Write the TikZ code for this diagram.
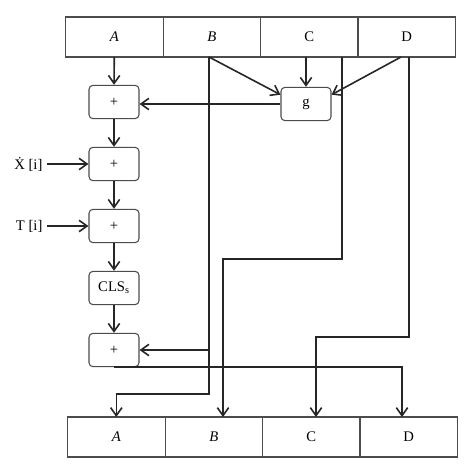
\documentclass[tikz,border=0pt]{standalone}
\usepackage{fontspec}
\setmainfont{Liberation Serif}
\usetikzlibrary{arrows.meta, positioning}

\begin{document}
\begin{tikzpicture} [
            x=0.75pt, y=-0.75pt,
            font=\fontsize{11}{13}\selectfont,
            cell/.style  = { rectangle, draw=black!70, line width=0.8pt,
                             minimum width=73.1pt, minimum height=30pt,
                             inner sep=0pt, outer sep=0pt },
            block/.style = { rectangle, draw=black!70, line width=0.8pt,
                             minimum width=37.5pt, minimum height=25pt,
                             rounded corners=3pt, inner sep=1pt },
            line/.style  = { draw, black!85, line width=1.2pt,
                             -{Straight Barb[length=6pt,width=8.5pt]} },
          ]
          \useasboundingbox (0,0) rectangle (474,474);

          % registers
          \matrix [column sep=-0.8pt] at (260.5,37) {
            \node (inA) [cell] {\textit{A}}; & \node (inB) [cell] {\textit{B}}; &
            \node (inC) [cell] {C}; & \node (inD) [cell] {D}; \\
          };
          \matrix [column sep=-0.8pt] at (262.5,437) {
            \node (outA) [cell] {\textit{A}}; & \node (outB) [cell] {\textit{B}}; &
            \node (outC) [cell] {C}; & \node (outD) [cell] {D}; \\
          };

          % adder chain
          \matrix [row sep=20.7pt] at (114,226) {
            \node (sum1) [block] {+}; \\
            \node (sum2) [block] {+}; \\
            \node (sum3) [block] {+}; \\
            \node (cls) [block] {CLS\textsubscript{s}}; \\
            \node (sum4) [block] {+}; \\
          };
          \node (g) [block] at (306,104) {g};
          \node (xin) [left=31pt of sum2] {\.X [i]};
          \node (tin) [left=31pt of sum3] {T [i]};

          \coordinate (bOut) at (209,57);
          \coordinate (cOut) at (342,57);
          \coordinate (dOut) at (409,57);
          \coordinate (dSide) at (401,57);
          \coordinate (bTurn) at (209,394);
          \coordinate (cTurn) at (223,259);
          \coordinate (dTurn) at (316,337);
          \coordinate (sTurn) at (402,369);

            \draw [line] (inA.south) -- (sum1.north);
            \draw [line] (sum1) -- (sum2);
            \draw [line] (sum2) -- (sum3);
            \draw [line] (sum3) -- (cls);
            \draw [line] (cls) -- (sum4);
            \draw [line] (xin) -- (sum2);
            \draw [line] (tin) -- (sum3);
            \draw [line] (g.north |- inC.south) -- (g.north);
            \draw [line] (bOut) -- (g.160);
            \draw [line] (dSide) -- (g.20);
            \draw [line] (g.west) -- (g.west -| sum1.east);
            \draw [line] (bOut) -- (bTurn) -| (outA.north);
            \draw [line] (bOut |- sum4.east) -- (sum4.east);
            \draw [line] (cOut) |- (cTurn) -- (cTurn |- outB.north);
            \draw [line] (dOut) |- (dTurn) -- (dTurn |- outC.north);
            \draw [line] (sum4.south) -| (sTurn |- outD.north);
        \end{tikzpicture}
\end{document}
